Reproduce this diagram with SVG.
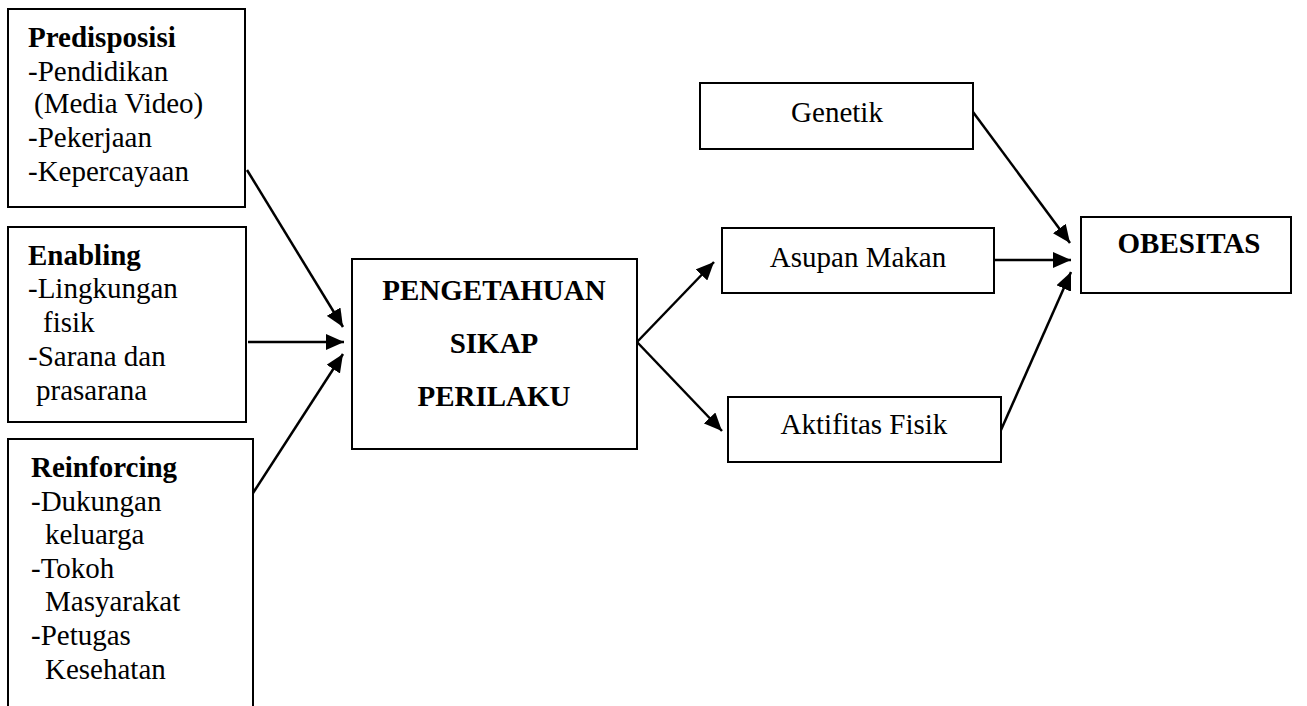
<svg xmlns="http://www.w3.org/2000/svg" width="1307" height="706" viewBox="0 0 1307 706" font-family="Liberation Serif, serif">
<style>
.box{fill:#fff;stroke:#000;stroke-width:2}
text{font-family:'Liberation Serif',serif;font-size:29px;fill:#000}
.b{font-weight:bold}
.c{text-anchor:middle}
.ln{stroke:#000;stroke-width:2.5;fill:none}
</style>
<defs>
<marker id="ah" markerUnits="userSpaceOnUse" markerWidth="20" markerHeight="16" refX="18" refY="8" orient="auto">
<path d="M0,0 L18,8 L0,16 z" fill="#000"/>
</marker>
</defs>
<rect width="1307" height="706" fill="#fff"/>
<g id="predisposisi">
<rect class="box" x="8" y="9" width="237" height="198"/>
<text class="b" x="28" y="47">Predisposisi</text>
<text x="28" y="81">-Pendidikan</text>
<text x="34" y="113">(Media Video)</text>
<text x="28" y="147">-Pekerjaan</text>
<text x="28" y="181">-Kepercayaan</text>
</g>
<g id="enabling">
<rect class="box" x="8" y="227" width="238" height="195"/>
<text class="b" x="28" y="265">Enabling</text>
<text x="28" y="298">-Lingkungan</text>
<text x="43" y="332">fisik</text>
<text x="28" y="366">-Sarana dan</text>
<text x="36" y="400">prasarana</text>
</g>
<g id="reinforcing">
<path class="box" d="M8,720 L8,439 L253,439 L253,720"/>
<text class="b" x="31" y="477">Reinforcing</text>
<text x="31" y="511">-Dukungan</text>
<text x="45" y="544">keluarga</text>
<text x="31" y="578">-Tokoh</text>
<text x="45" y="611">Masyarakat</text>
<text x="31" y="645">-Petugas</text>
<text x="45" y="679">Kesehatan</text>
</g>
<g id="psp">
<rect class="box" x="352" y="259" width="285" height="190"/>
<text class="b c" x="494" y="300">PENGETAHUAN</text>
<text class="b c" x="494" y="353">SIKAP</text>
<text class="b c" x="494" y="406">PERILAKU</text>
</g>
<g id="genetik">
<rect class="box" x="700" y="83" width="273" height="66"/>
<text class="c" x="837" y="122">Genetik</text>
</g>
<g id="asupan">
<rect class="box" x="722" y="228" width="272" height="65"/>
<text class="c" x="858" y="267">Asupan Makan</text>
</g>
<g id="aktifitas">
<rect class="box" x="728" y="397" width="273" height="65"/>
<text class="c" x="864" y="434">Aktifitas Fisik</text>
</g>
<g id="obesitas">
<rect class="box" x="1081" y="217" width="210" height="76"/>
<text class="b c" x="1189" y="253">OBESITAS</text>
</g>
<g id="connectors">
<line class="ln" x1="247" y1="170" x2="343" y2="327" marker-end="url(#ah)"/>
<line class="ln" x1="248" y1="342" x2="344" y2="342" marker-end="url(#ah)"/>
<line class="ln" x1="253" y1="493" x2="343" y2="354" marker-end="url(#ah)"/>
<line class="ln" x1="637" y1="342" x2="714" y2="262" marker-end="url(#ah)"/>
<line class="ln" x1="637" y1="342" x2="722" y2="431" marker-end="url(#ah)"/>
<line class="ln" x1="973" y1="112" x2="1070" y2="243" marker-end="url(#ah)"/>
<line class="ln" x1="994" y1="260" x2="1071" y2="260" marker-end="url(#ah)"/>
<line class="ln" x1="1001" y1="430" x2="1071" y2="272" marker-end="url(#ah)"/>
</g>
</svg>
